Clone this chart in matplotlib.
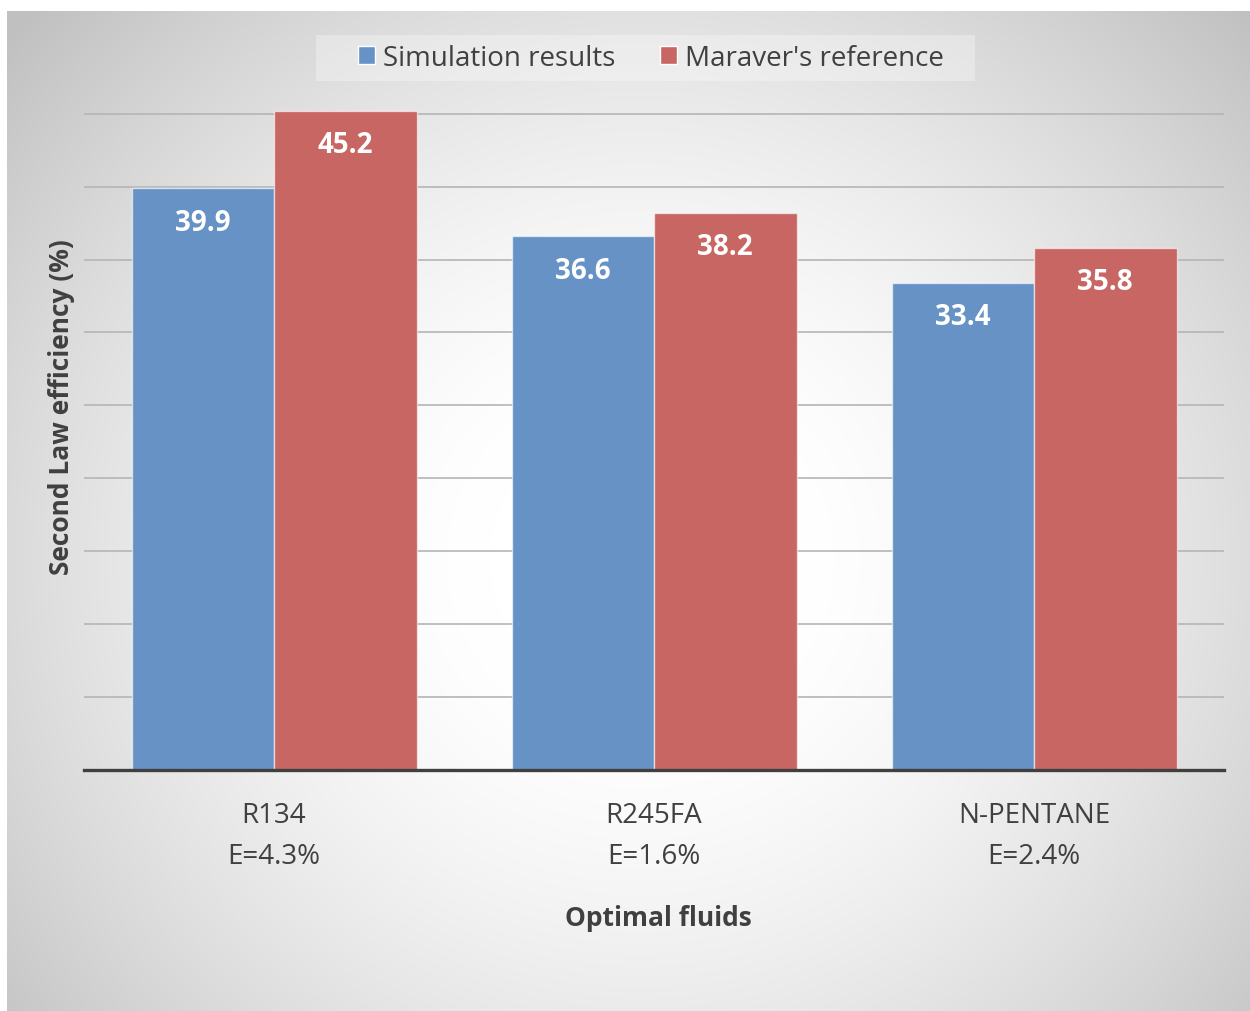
import matplotlib.pyplot as plt
from matplotlib.patches import Patch, Rectangle
import numpy as np

plt.rcParams['font.family'] = ['Open Sans', 'DejaVu Sans']

# Data
fluids = ['R134', 'R245FA', 'N-PENTANE']
errors = ['E=4.3%', 'E=1.6%', 'E=2.4%']
simulation = [39.9, 36.6, 33.4]
maraver = [45.2, 38.2, 35.8]
series_names = ["Simulation results", "Maraver's reference"]

blue = '#6692C6'
red = '#C76663'
text_col = '#404040'

W, H = 1250, 1012
fig = plt.figure(figsize=(W / 100, H / 100), dpi=100)
fig.patch.set_facecolor('white')

# Radial gradient panel background
bg = fig.add_axes([7 / W, 0, 1 - 7 / W, 1 - 12 / H], zorder=0)
yy, xx = np.mgrid[12:H, 7:W]
d = np.hypot(xx - 640, (yy - 560) * 1.05)
t = np.clip((d - 150) / 690, 0, 1) ** 1.5
grey = 255 - 63 * t
img = np.dstack([grey, grey, grey]) / 255.0
bg.imshow(img, aspect='auto', interpolation='bilinear')
bg.axis('off')

# Main axes
ax = fig.add_axes([84 / W, 1 - 771 / H, 1140 / W, 660 / H], zorder=1)
ax.patch.set_alpha(0)
x = np.arange(len(fluids))
w = 0.375
b1 = ax.bar(x - w / 2, simulation, w, color=blue, edgecolor=(1, 1, 1, 0.6), linewidth=1, zorder=3)
b2 = ax.bar(x + w / 2, maraver, w, color=red, edgecolor=(1, 1, 1, 0.6), linewidth=1, zorder=3)

for bars, vals in ((b1, simulation), (b2, maraver)):
    for rect, v in zip(bars, vals):
        ax.annotate(f'{v:.1f}', (rect.get_x() + rect.get_width() / 2, v),
                    xytext=(0, -24.5), textcoords='offset points',
                    ha='center', va='center', color='white',
                    fontsize=20, fontweight='bold', zorder=4)

ax.set_xlim(-0.5, 2.5)
ax.set_ylim(0, 45.25)
ax.set_yticks(np.arange(5, 46, 5))
ax.set_yticklabels([])
ax.tick_params(axis='y', length=0)
ax.grid(axis='y', color='#b5b5b5', linewidth=1.2, zorder=0)
ax.set_axisbelow(True)

ax.set_xticks(x)
ax.set_xticklabels([f'{f}\n{e}' for f, e in zip(fluids, errors)],
                   fontsize=20, color=text_col, linespacing=1.62)
ax.tick_params(axis='x', length=0, pad=22)

for s in ('top', 'right', 'left'):
    ax.spines[s].set_visible(False)
ax.spines['bottom'].set_color('#404040')
ax.spines['bottom'].set_linewidth(2.4)
ax.spines['bottom'].set_zorder(5)

fig.text(62 / W, 1 - 407 / H, 'Second Law efficiency (%)', rotation=90,
         ha='center', va='center', fontsize=19, fontweight='bold', color=text_col)
fig.text(658 / W, 1 - 919 / H, 'Optimal fluids', ha='center', va='center',
         fontsize=19, fontweight='bold', color=text_col)

# Legend with a wide, faint backing box
fig.patches.append(Rectangle((316 / W, 1 - 82 / H), 659 / W, 46 / H,
                             transform=fig.transFigure, facecolor='white',
                             alpha=0.3, edgecolor='none', zorder=1))
handles = [Patch(facecolor=blue, edgecolor='white', label=series_names[0]),
           Patch(facecolor=red, edgecolor='white', label=series_names[1])]
leg = fig.legend(handles=handles, loc='center', bbox_to_anchor=(651 / W, 1 - 59 / H),
                 ncol=2, fontsize=20, frameon=False,
                 handlelength=0.6, handleheight=0.6, handletextpad=0.3,
                 columnspacing=1.6)
for txt in leg.get_texts():
    txt.set_color(text_col)

fig.savefig('out.png', dpi=100)
